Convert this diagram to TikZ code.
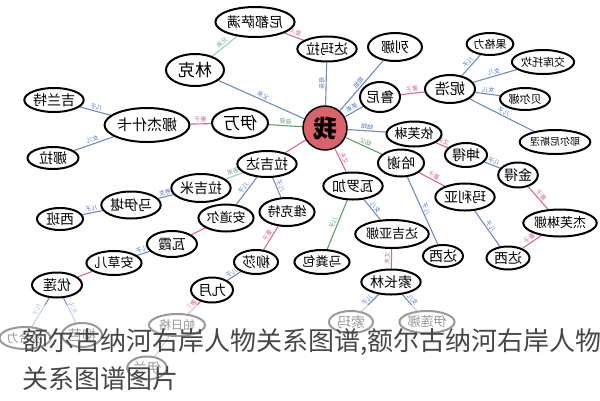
\documentclass[tikz,border=0pt]{standalone}
\usepackage{fontspec}
\usepackage{graphicx}
\usetikzlibrary{shapes.geometric,backgrounds}
\newfontfamily\cjk{Noto Sans CJK SC}
\newcommand{\rf}[1]{\reflectbox{#1}}
\definecolor{lblue}{RGB}{112,140,185}
\definecolor{tblue}{RGB}{80,115,200}
\definecolor{lpink}{RGB}{214,104,150}
\definecolor{lgreen}{RGB}{92,160,104}
\definecolor{lteal}{RGB}{150,210,190}
\definecolor{mered}{RGB}{218,98,106}
\tikzset{
 pn/.style={draw=black, line width=2pt, ellipse, fill=white, inner sep=0pt, font=\cjk\fontsize{14}{14}\selectfont},
 bl/.style={draw=lblue, line width=1.1pt},
 pk/.style={draw=lpink, line width=1.1pt},
 gr/.style={draw=lgreen, line width=1.1pt},
 tl/.style={draw=lteal, line width=1.1pt},
 lb/.style={font=\cjk\fontsize{6}{6}\selectfont, sloped, midway, above=0pt, inner sep=1pt},
 lbb/.style={lb, text=tblue},
 lbp/.style={lb, text=lpink},
 lbg/.style={lb, text=lgreen},
 lbt/.style={lb, text=lteal!80!black},
}
\begin{document}
\begin{tikzpicture}[x=1pt,y=-1pt]
\useasboundingbox (0,0) rectangle (600,400);
% nodes
\node[circle, draw=black, line width=1.5pt, fill=mered, minimum size=44pt, inner sep=0pt, font=\cjk\bfseries\fontsize{24}{24}\selectfont] (me) at (325,128) {\rf{我}};
\node[pn, minimum width=74pt, minimum height=30pt] (nd) at (255,22) {\rf{尼都萨满}};
\node[pn, minimum width=58pt, minimum height=32pt, font=\cjk\fontsize{17}{17}\selectfont] (lk) at (195,70) {\rf{林克}};
\node[pn, minimum width=56pt, minimum height=30pt, font=\cjk\fontsize{17}{17}\selectfont] (yw) at (240,123) {\rf{伊万}};
\node[pn, minimum width=78pt, minimum height=34pt, font=\cjk\fontsize{15}{15}\selectfont] (njsk) at (147,125) {\rf{娜杰什卡}};
\node[pn, minimum width=52pt, minimum height=24pt] (jlt) at (54,100) {\rf{吉兰特}};
\node[pn, minimum width=51pt, minimum height=22pt] (nl) at (53,158) {\rf{娜拉}};
\node[pn, minimum width=56pt, minimum height=25pt] (dml) at (327,49) {\rf{达玛拉}};
\node[pn, minimum width=54pt, minimum height=28pt] (ln) at (395,47) {\rf{列娜}};
\node[pn, minimum width=40pt, minimum height=30pt] (lun) at (380,97) {\rf{鲁尼}};
\node[pn, minimum width=50pt, minimum height=28pt, font=\cjk\fontsize{15}{15}\selectfont] (nh) at (450,89) {\rf{妮浩}};
\node[pn, minimum width=46pt, minimum height=22pt, font=\cjk\fontsize{11}{11}\selectfont] (ggl) at (490,44) {\rf{果格力}};
\node[pn, minimum width=60pt, minimum height=24pt, font=\cjk\fontsize{11}{11}\selectfont] (jktk) at (543,62) {\rf{交库托坎}};
\node[pn, minimum width=50pt, minimum height=22pt, font=\cjk\fontsize{11}{11}\selectfont] (ben) at (525,99) {\rf{贝尔娜}};
\node[pn, minimum width=64pt, minimum height=24pt, font=\cjk\fontsize{10}{10}\selectfont] (yr) at (555,142) {\rf{耶尔尼斯涅}};
\node[pn, minimum width=55pt, minimum height=25pt, font=\cjk\fontsize{13}{13}\selectfont] (yfl) at (414,134) {\rf{依芙琳}};
\node[pn, minimum width=42pt, minimum height=24pt] (kd) at (466,155) {\rf{坤得}};
\node[pn, minimum width=38pt, minimum height=25pt] (jd) at (518,175) {\rf{金得}};
\node[pn, minimum width=66pt, minimum height=27pt, font=\cjk\fontsize{13}{13}\selectfont] (jflin) at (560,223) {\rf{杰芙琳娜}};
\node[pn, minimum width=46pt, minimum height=27pt] (hx) at (401,163) {\rf{哈谢}};
\node[pn, minimum width=54pt, minimum height=27pt] (mly) at (465,197) {\rf{玛利亚}};
\node[pn, minimum width=40pt, minimum height=22pt] (dx1) at (443,256) {\rf{达西}};
\node[pn, minimum width=43pt, minimum height=23pt] (dx2) at (508,258) {\rf{达西}};
\node[pn, minimum width=57pt, minimum height=27pt] (wlj) at (353,186) {\rf{瓦罗加}};
\node[pn, minimum width=48pt, minimum height=24pt, font=\cjk\fontsize{13}{13}\selectfont] (mfb) at (322,262) {\rf{马粪包}};
\node[pn, minimum width=62pt, minimum height=28pt, font=\cjk\fontsize{13}{13}\selectfont] (djyn) at (392,234) {\rf{达吉亚娜}};
\node[pn, minimum width=52pt, minimum height=25pt] (scl) at (391,282) {\rf{索长林}};
\node[pn, minimum width=44pt, minimum height=22pt] (f1) at (351,322) {\rf{索玛}};
\node[pn, minimum width=54pt, minimum height=22pt, font=\cjk\fontsize{13}{13}\selectfont] (f2) at (427,322) {\rf{伊莲娜}};
\node[pn, minimum width=52pt, minimum height=26pt] (ljd) at (267,164) {\rf{拉吉达}};
\node[pn, minimum width=44pt, minimum height=28pt, font=\cjk\fontsize{13}{13}\selectfont] (wkt) at (287,212) {\rf{维克特}};
\node[pn, minimum width=48pt, minimum height=27pt, font=\cjk\fontsize{13}{13}\selectfont] (adr) at (226,218) {\rf{安道尔}};
\node[pn, minimum width=54pt, minimum height=28pt] (ljm) at (201,188) {\rf{拉吉米}};
\node[pn, minimum width=58pt, minimum height=27pt] (myk) at (131,205) {\rf{马伊堪}};
\node[pn, minimum width=46pt, minimum height=22pt] (xb) at (60,219) {\rf{西班}};
\node[pn, minimum width=50pt, minimum height=26pt] (wx) at (172,244) {\rf{瓦霞}};
\node[pn, minimum width=52pt, minimum height=24pt, font=\cjk\fontsize{13}{13}\selectfont] (acr) at (114,263) {\rf{安草儿}};
\node[pn, minimum width=50pt, minimum height=25pt] (yl) at (57,285) {\rf{优莲}};
\node[pn, minimum width=46pt, minimum height=22pt, font=\cjk\fontsize{12}{12}\selectfont] (f3) at (25,338) {\rf{沙合力}};
\node[pn, minimum width=40pt, minimum height=24pt] (f4) at (82,335) {\rf{柳芭}};
\node[pn, minimum width=44pt, minimum height=24pt] (ls) at (256,262) {\rf{柳莎}};
\node[pn, minimum width=42pt, minimum height=25pt] (jy) at (212,290) {\rf{九月}};
\node[pn, minimum width=56pt, minimum height=22pt, font=\cjk\fontsize{12}{12}\selectfont] (f5) at (177,325) {\rf{帕日格}};
\node[pn, minimum width=38pt, minimum height=23pt] (f6) at (147,368) {\rf{伊兰}};
% connectors
\begin{scope}[on background layer]
\fill[white] (0,0) rectangle (600,400);
\draw[pk] (nd) -- node[lbp]{\rf{爱人}} (dml);
\draw[tl] (nd) -- node[lbt]{\rf{兄弟}} (lk);
\draw[bl] (lk) -- node[lbb]{\rf{父亲}} (me);
\draw[gr] (yw) -- node[lbg]{\rf{叔叔}} (me);
\draw[pk] (yw) -- node[lbp]{\rf{妻子}} (njsk);
\draw[bl] (njsk) -- node[lbb]{\rf{儿子}} (jlt);
\draw[bl] (njsk) -- node[lbb]{\rf{女儿}} (nl);
\draw[bl] (dml) -- node[lbb]{\rf{母亲}} (me);
\draw[bl] (ln) -- node[lbb]{\rf{姐姐}} (me);
\draw[bl] (lun) -- node[lbb]{\rf{弟弟}} (me);
\draw[pk] (lun) -- node[lbp]{\rf{妻子}} (nh);
\draw[bl] (nh) -- node[lbb]{\rf{儿子}} (ggl);
\draw[bl] (nh) -- node[lbb]{\rf{女儿}} (jktk);
\draw[bl] (nh) -- node[lbb]{\rf{女儿}} (ben);
\draw[bl] (nh) -- node[lbb]{\rf{儿子}} (yr);
\draw[bl] (yfl) -- node[lbb]{\rf{姑姑}} (me);
\draw[pk] (yfl) -- node[lbp]{\rf{丈夫}} (kd);
\draw[bl] (kd) -- node[lbb]{\rf{儿子}} (jd);
\draw[pk] (jd) -- node[lbp]{\rf{妻子}} (jflin);
\draw[gr] (hx) -- node[lbg]{\rf{姑父}} (me);
\draw[pk] (hx) -- node[lbp]{\rf{妻子}} (mly);
\draw[bl] (hx) -- node[lbb]{\rf{儿子}} (dx1);
\draw[bl] (mly) -- node[lbb]{\rf{儿子}} (dx2);
\draw[pk] (dx2) -- node[lbp]{\rf{妻子}} (jflin);
\draw[pk] (me) -- node[lbp]{\rf{丈夫}} (wlj);
\draw[gr] (wlj) -- node[lbg]{\rf{儿子}} (mfb);
\draw[bl] (wlj) -- node[lbb]{\rf{女儿}} (djyn);
\draw[pk] (djyn) -- node[lbp]{\rf{丈夫}} (scl);
\draw[bl] (scl) -- node[lbb]{\rf{儿子}} (f1);
\draw[bl] (scl) -- node[lbb]{\rf{女儿}} (f2);
\draw[pk] (me) -- (ljd);
\draw[bl] (ljd) -- node[lbb]{\rf{儿子}} (wkt);
\draw[bl] (ljd) -- node[lbb]{\rf{儿子}} (adr);
\draw[tl] (ljd) -- node[lbt]{\rf{弟弟}} (ljm);
\draw[bl] (ljm) -- node[lbb]{\rf{养女}} (myk);
\draw[bl] (myk) -- node[lbb]{\rf{儿子}} (xb);
\draw[pk] (adr) -- (wx);
\draw[bl] (wx) -- node[lbb]{\rf{儿子}} (acr);
\draw[pk] (acr) -- (yl);
\draw[bl] (yl) -- node[lbb]{\rf{儿子}} (f3);
\draw[bl] (yl) -- node[lbb]{\rf{女儿}} (f4);
\draw[pk] (wkt) -- node[lbp]{\rf{妻子}} (ls);
\draw[bl] (ls) -- node[lbb]{\rf{儿子}} (jy);
\draw[pk] (jy) -- node[lbp]{\rf{妻子}} (f5);
\draw[bl] (f5) -- node[lbb]{\rf{儿子}} (f6);
\end{scope}
% fade and caption
\fill[white, opacity=0.6] (0,305) rectangle (600,400);
\node[anchor=base west, inner sep=0pt, text=black!72, font=\cjk\fontsize{26}{26}\selectfont] (cap1) at (22,350) {额尔古纳河右岸人物关系图谱,额尔古纳河右岸人物};
\node[anchor=base west, inner sep=0pt, text=black!72, font=\cjk\fontsize{26}{26}\selectfont] (cap2) at (22,388) {关系图谱图片};
\end{tikzpicture}
\end{document}
